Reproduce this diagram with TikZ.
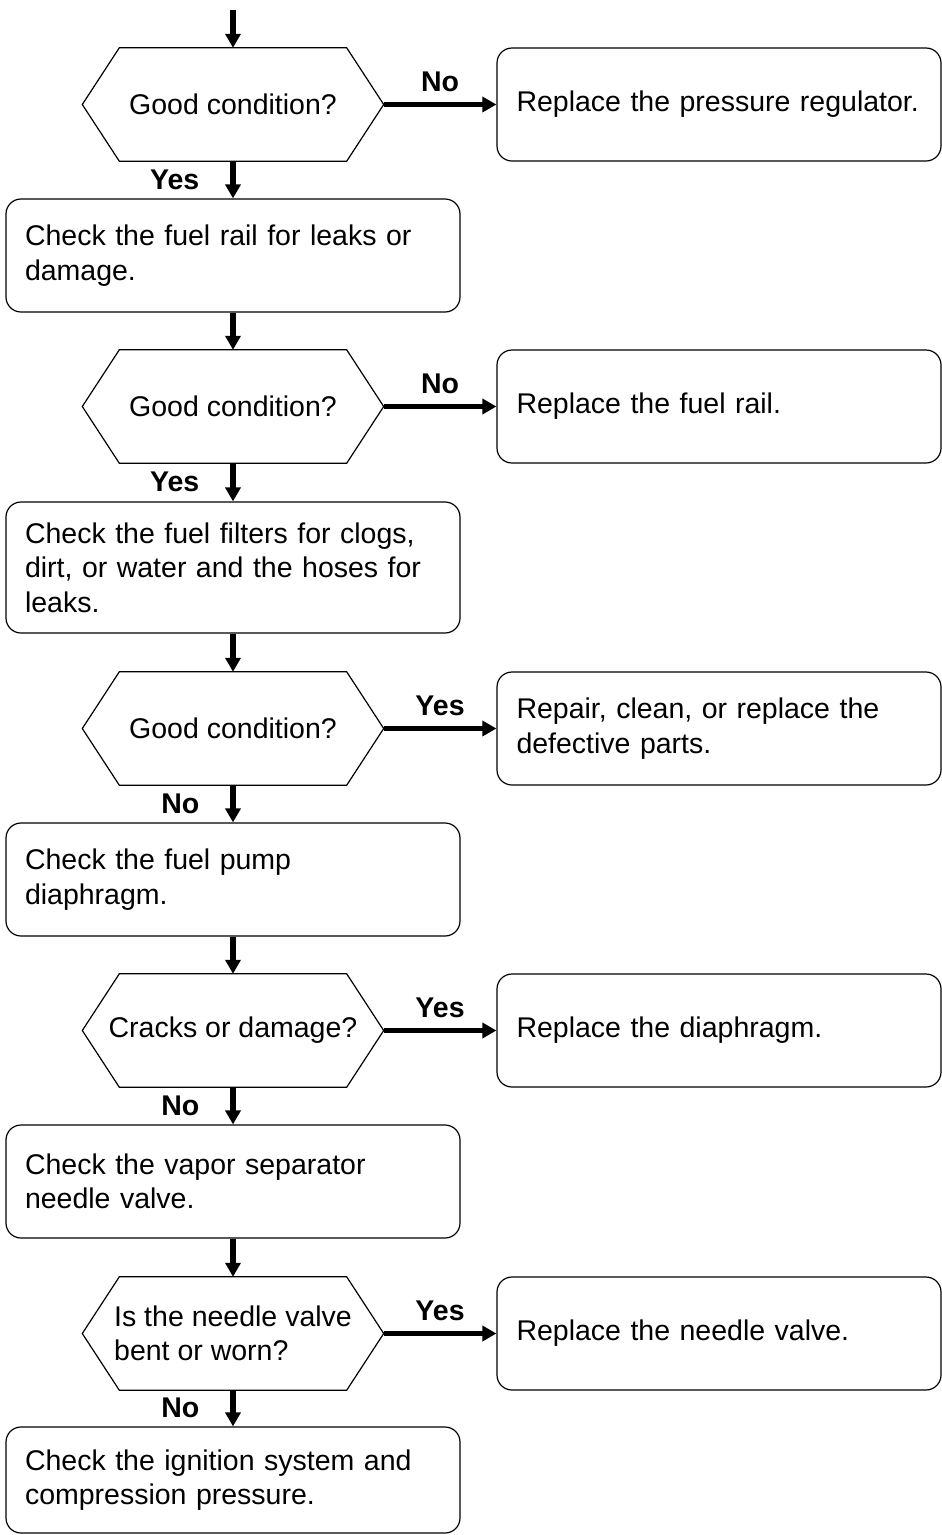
\documentclass[tikz,border=0pt]{standalone}
\usepackage{fontspec}
\setmainfont{Liberation Sans}
\usetikzlibrary{arrows.meta}

\begin{document}
\begin{tikzpicture}[x=1pt, y=-1pt, >={Triangle[length=14pt,width=15pt]},
    every node/.style={font=\fontsize{28.5pt}{34.5pt}\selectfont},
    query/.style={minimum width=301pt, minimum height=113pt, inner sep=0pt, align=left},
    taskbox/.style={draw, line width=1.2pt, rounded corners=15pt, minimum height=113pt,
        text width=416pt, inner xsep=19pt, align=left},
    fixbox/.style={draw, line width=1.2pt, rounded corners=15pt, minimum height=113pt,
        text width=405pt, inner xsep=19.5pt, align=left},
    flow/.style={->, line width=5.5pt},
    ans/.style={font=\bfseries\fontsize{28.5pt}{34.5pt}\selectfont, inner sep=0pt}]
    \useasboundingbox (0,0) rectangle (942,1535);

    % Entry
    \coordinate (start) at (233,10);

    % Questions
    \node[query] (q1) at (233,104.5) {Good condition?};
    \node[query] (q2) at (233,406.5) {Good condition?};
    \node[query] (q3) at (233,728.5) {Good condition?};
    \node[query] (q4) at (233,1030.5) {Cracks or damage?};
    \node[query] (q5) at (233,1333.5) {Is the needle valve\\bent or worn?};

    % Hexagon outlines round the questions
    \foreach \q in {q1,q2,q3,q4,q5}
        \draw[line width=1.2pt] (\q.west) -- ([xshift=37pt]\q.north west)
            -- ([xshift=-37pt]\q.north east) -- (\q.east)
            -- ([xshift=-37pt]\q.south east) -- ([xshift=37pt]\q.south west) -- cycle;

    % Checks down the left
    \node[taskbox] (c1) at (233,255.5) {Check the fuel rail for leaks or\\damage.};
    \node[taskbox, minimum height=131pt] (c2) at (233,567.5)
        {Check the fuel filters for clogs,\\dirt, or water and the hoses for\\leaks.};
    \node[taskbox] (c3) at (233,879.5) {Check the fuel pump\\diaphragm.};
    \node[taskbox] (c4) at (233,1181.5) {Check the vapor separator\\needle valve.};
    \node[taskbox, minimum height=106pt] (c5) at (233,1480)
        {Check the ignition system and\\compression pressure.};

    % Remedies on the right
    \node[fixbox] (r1) at (719,104.5) {Replace the pressure regulator.};
    \node[fixbox] (r2) at (719,406.5) {Replace the fuel rail.};
    \node[fixbox] (r3) at (719,728.5) {Repair, clean, or replace the\\defective parts.};
    \node[fixbox] (r4) at (719,1030.5) {Replace the diaphragm.};
    \node[fixbox] (r5) at (719,1333.5) {Replace the needle valve.};

    % Main line
    \draw[flow] (start) -- (q1);
    \draw[flow] (q1) -- node[midway, left=31pt, ans] {Yes} (c1);
    \draw[flow] (c1) -- (q2);
    \draw[flow] (q2) -- node[midway, left=31pt, ans] {Yes} (c2);
    \draw[flow] (c2) -- (q3);
    \draw[flow] (q3) -- node[midway, left=31pt, ans] {No} (c3);
    \draw[flow] (c3) -- (q4);
    \draw[flow] (q4) -- node[midway, left=31pt, ans] {No} (c4);
    \draw[flow] (c4) -- (q5);
    \draw[flow] (q5) -- node[midway, left=31pt, ans] {No} (c5);

    % Branches
    \draw[flow] (q1.east) -- node[midway, above=10pt, ans] {No} (r1);
    \draw[flow] (q2.east) -- node[midway, above=10pt, ans] {No} (r2);
    \draw[flow] (q3.east) -- node[midway, above=10pt, ans] {Yes} (r3);
    \draw[flow] (q4.east) -- node[midway, above=10pt, ans] {Yes} (r4);
    \draw[flow] (q5.east) -- node[midway, above=10pt, ans] {Yes} (r5);
\end{tikzpicture}
\end{document}
